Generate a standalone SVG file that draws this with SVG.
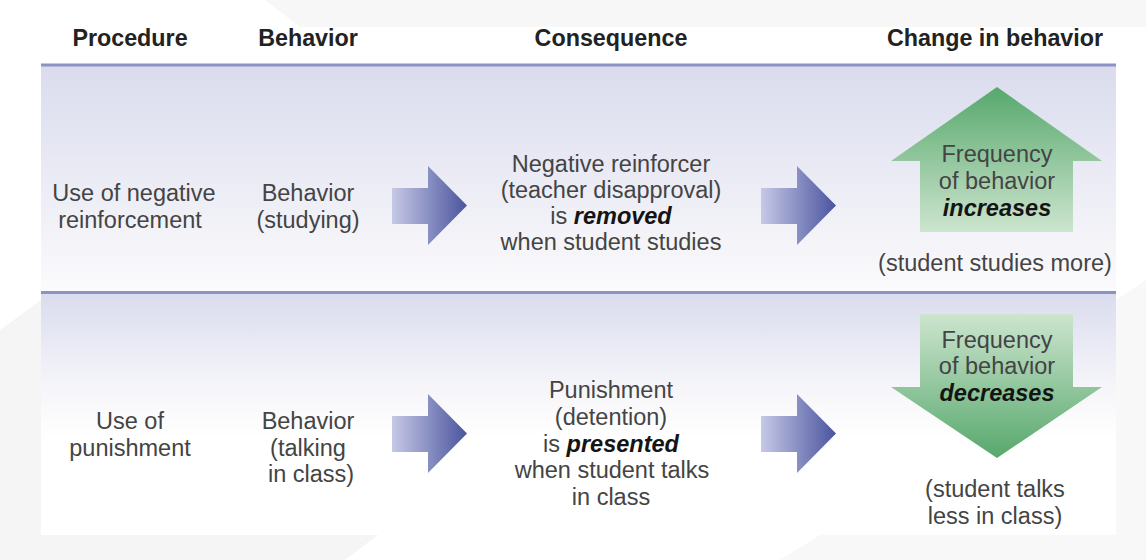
<svg xmlns="http://www.w3.org/2000/svg" width="1146" height="560" viewBox="0 0 1146 560">
  <style>
    .hdr { font-family: "Liberation Sans", Arial, sans-serif; font-weight: bold; font-size: 23.3px; fill: #222; text-anchor: middle; }
    .txt { font-family: "Liberation Sans", Arial, sans-serif; font-size: 23.5px; fill: #444444; text-anchor: middle; }
    .em { font-weight: bold; font-style: italic; fill: #141414; }
    .rule { fill: #8b93c2; }
  </style>
  <defs>
    <linearGradient id="band" x1="0" y1="0" x2="0" y2="1">
      <stop offset="0" stop-color="#dadcee"/>
      <stop offset="0.75" stop-color="#f3f3f8"/>
      <stop offset="1" stop-color="#fbfbfd"/>
    </linearGradient>
    <linearGradient id="band2" x1="0" y1="0" x2="0" y2="1">
      <stop offset="0" stop-color="#dadcee"/>
      <stop offset="0.4" stop-color="#f6f6fa"/>
      <stop offset="0.6" stop-color="#ffffff"/>
      <stop offset="1" stop-color="#ffffff"/>
    </linearGradient>
    <linearGradient id="blue" x1="0" y1="0" x2="1" y2="0">
      <stop offset="0" stop-color="#c6c9e6"/>
      <stop offset="1" stop-color="#4a549e"/>
    </linearGradient>
    <linearGradient id="greenUp" x1="0" y1="0" x2="0" y2="1">
      <stop offset="0" stop-color="#57a86c"/>
      <stop offset="1" stop-color="#cde5cf"/>
    </linearGradient>
    <linearGradient id="greenDown" x1="0" y1="0" x2="0" y2="1">
      <stop offset="0" stop-color="#cde5cf"/>
      <stop offset="1" stop-color="#57a86c"/>
    </linearGradient>
    <polygon id="arrowR" points="0,22 36,22 36,0 75,39.5 36,79 36,58 0,58" fill="url(#blue)"/>
  </defs>

  <!-- background -->
  <rect x="0" y="0" width="1146" height="560" fill="#ffffff"/>
  <polygon points="265,0 1146,0 1146,27 300,27" fill="#f7f7f7"/>
  <polygon points="0,330 41,300 41,535 378,535 345,560 0,560" fill="#f5f5f5"/>
  <polygon points="1116,300 1146,280 1146,560 780,560 820,535 1116,535" fill="#f8f8f8"/>

  <!-- panel bands -->
  <g id="panel">
    <rect x="41" y="66" width="1075" height="226" fill="url(#band)"/>
    <rect x="41" y="293" width="1075" height="242" fill="url(#band2)"/>
    <rect class="rule" x="41" y="63.5" width="1075" height="3"/>
    <rect class="rule" x="41" y="291" width="1075" height="3"/>
  </g>

  <!-- headers -->
  <g id="headers">
    <text class="hdr" x="130" y="46">Procedure</text>
    <text class="hdr" x="308" y="46">Behavior</text>
    <text class="hdr" x="611" y="46">Consequence</text>
    <text class="hdr" x="995" y="46">Change in behavior</text>
  </g>

  <!-- row 1 -->
  <g id="proc-negative">
    <text class="txt" x="134" y="201">Use of negative</text>
    <text class="txt" x="130" y="228">reinforcement</text>
  </g>
  <g id="behavior-studying">
    <text class="txt" x="308" y="201">Behavior</text>
    <text class="txt" x="308" y="228">(studying)</text>
  </g>
  <g id="consequence-removed">
    <text class="txt" x="611" y="172">Negative reinforcer</text>
    <text class="txt" x="611" y="198">(teacher disapproval)</text>
    <text class="txt" x="611" y="224">is <tspan class="em">removed</tspan></text>
    <text class="txt" x="611" y="250">when student studies</text>
  </g>
  <g id="change-increases">
    <polygon points="997,87 1102,161 1073,161 1073,232 920,232 920,161 891,161" fill="url(#greenUp)"/>
    <text class="txt" x="997" y="162">Frequency</text>
    <text class="txt" x="997" y="189">of behavior</text>
    <text class="txt em" x="997" y="216">increases</text>
    <text class="txt" x="995" y="271">(student studies more)</text>
  </g>

  <!-- row 2 -->
  <g id="proc-punishment">
    <text class="txt" x="130" y="429">Use of</text>
    <text class="txt" x="130" y="456">punishment</text>
  </g>
  <g id="behavior-talking">
    <text class="txt" x="308" y="429">Behavior</text>
    <text class="txt" x="308" y="456">(talking</text>
    <text class="txt" x="311" y="482">in class)</text>
  </g>
  <g id="consequence-presented">
    <text class="txt" x="611" y="398">Punishment</text>
    <text class="txt" x="611" y="425">(detention)</text>
    <text class="txt" x="611" y="452">is <tspan class="em">presented</tspan></text>
    <text class="txt" x="612" y="478">when student talks</text>
    <text class="txt" x="611" y="505">in class</text>
  </g>
  <g id="change-decreases">
    <polygon points="920,314 1073,314 1073,387 1102,387 997,458 891,387 920,387" fill="url(#greenDown)"/>
    <text class="txt" x="997" y="348">Frequency</text>
    <text class="txt" x="997" y="374">of behavior</text>
    <text class="txt em" x="997" y="401">decreases</text>
    <text class="txt" x="995" y="497">(student talks</text>
    <text class="txt" x="995" y="524">less in class)</text>
  </g>

  <!-- connectors -->
  <g id="connectors">
    <use href="#arrowR" x="392" y="166"/>
    <use href="#arrowR" x="761" y="166"/>
    <use href="#arrowR" x="392" y="394"/>
    <use href="#arrowR" x="761" y="394"/>
  </g>
</svg>
